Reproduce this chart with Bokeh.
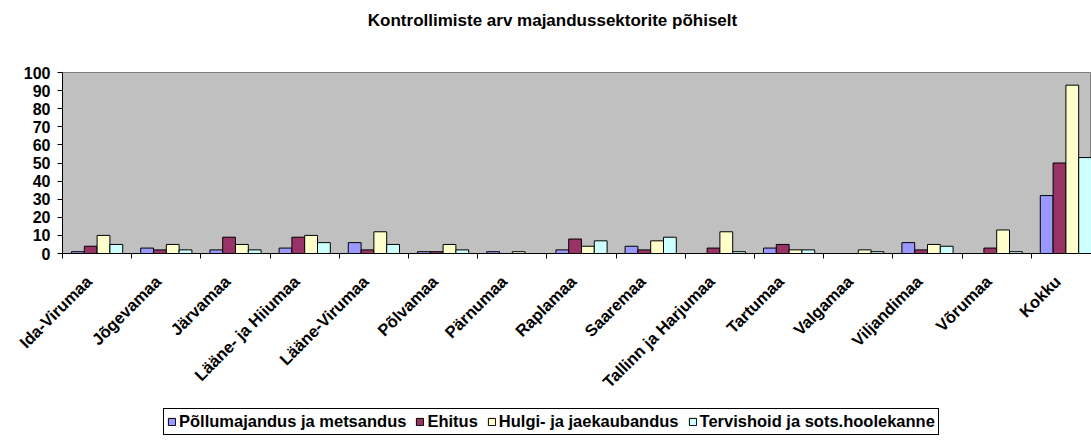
import math
from bokeh.plotting import figure
from bokeh.layouts import column
from bokeh.models import Range1d, FixedTicker, Legend, LegendItem, LinearAxis, Label
from bokeh.embed import file_html
from bokeh.resources import INLINE

title_text = "Kontrollimiste arv majandussektorite põhiselt"
categories = ["Ida-Virumaa", "Jõgevamaa", "Järvamaa", "Lääne- ja Hiiumaa", "Lääne-Virumaa",
              "Põlvamaa", "Pärnumaa", "Raplamaa", "Saaremaa", "Tallinn ja Harjumaa",
              "Tartumaa", "Valgamaa", "Viljandimaa", "Võrumaa", "Kokku"]
pollumajandus = [1, 3, 2, 3, 6, 1, 1, 2, 4, 0, 3, 0, 6, 0, 32]
ehitus        = [4, 2, 9, 9, 2, 1, 0, 8, 2, 3, 5, 0, 2, 3, 50]
hulgi         = [10, 5, 5, 10, 12, 5, 1, 4, 7, 12, 2, 2, 5, 13, 93]
tervishoid    = [5, 2, 2, 6, 5, 2, 0, 7, 9, 1, 2, 1, 4, 1, 53]
series_names = ["Põllumajandus ja metsandus", "Ehitus", "Hulgi- ja jaekaubandus",
                "Tervishoid ja sots.hoolekanne"]
series_values = [pollumajandus, ehitus, hulgi, tervishoid]
colors = ["#9999FF", "#993366", "#FFFFCC", "#CCFFFF"]
y_ticks = list(range(0, 101, 10))

FONT = "Liberation Sans"
n = len(categories)
bw = 0.185

# ---- title strip (frame aligned with the chart frame: page x 62..1091)
tf = figure(width=1091, height=40, output_backend="svg", toolbar_location=None,
            x_range=Range1d(62, 1091), y_range=Range1d(0, 40),
            x_axis_type=None, y_axis_type=None,
            min_border_left=0, min_border_right=0, min_border_top=0, min_border_bottom=0)
tf.outline_line_color = None
tf.xgrid.visible = False
tf.ygrid.visible = False
tf.add_layout(Label(x=552, y=20, text=title_text, text_align="center",
                    text_baseline="middle", text_font=FONT, text_font_size="17px",
                    text_font_style="bold", text_color="black"))

# ---- main chart
p = figure(frame_width=1029, frame_height=181, output_backend="svg", toolbar_location=None,
           x_range=Range1d(0, 14.87), y_range=Range1d(0, 100),
           x_axis_type=None, y_axis_type=None,
           min_border_left=62, min_border_top=32, min_border_right=0, min_border_bottom=150)
p.background_fill_color = "#C0C0C0"
p.border_fill_color = "white"
p.outline_line_color = "#808080"
p.outline_line_width = 1

yax = LinearAxis(ticker=FixedTicker(ticks=y_ticks))
yax.axis_line_color = "black"
yax.major_tick_line_color = "black"
yax.major_tick_out = 5
yax.major_tick_in = 0
yax.minor_tick_line_color = None
yax.major_label_text_font = FONT
yax.major_label_text_font_size = "16px"
yax.major_label_text_font_style = "bold"
yax.major_label_text_color = "black"
yax.major_label_standoff = 7
p.add_layout(yax, "left")

label_pos = [i + 0.38 for i in range(n)]
centers = [i + 0.5 for i in range(n)]
xax = LinearAxis(ticker=FixedTicker(ticks=label_pos, minor_ticks=list(range(n + 1))))
xax.major_label_overrides = {c: name for c, name in zip(label_pos, categories)}
xax.axis_line_color = "black"
xax.major_tick_line_color = None
xax.major_tick_out = 0
xax.major_tick_in = 0
xax.minor_tick_line_color = "black"
xax.minor_tick_out = 5
xax.minor_tick_in = 0
xax.major_label_orientation = math.pi / 4
xax.major_label_text_font = FONT
xax.major_label_text_font_size = "16.5px"
xax.major_label_text_font_style = "bold"
xax.major_label_text_color = "black"
xax.major_label_standoff = 20
p.add_layout(xax, "below")

p.ygrid.ticker = FixedTicker(ticks=y_ticks[1:-1])
p.ygrid.grid_line_color = "black"
p.ygrid.grid_line_width = 1
p.xgrid.grid_line_color = None

for k, (name, vals, col) in enumerate(zip(series_names, series_values, colors)):
    xs = [c + (k - 1.5) * bw for c in centers]
    p.vbar(x=xs, top=vals, width=bw, bottom=0, fill_color=col,
           line_color="black", line_width=1)

# ---- legend strip (tiny swatch renderers hidden behind the opaque legend box)
lf = figure(width=1091, height=42, output_backend="svg", toolbar_location=None,
            x_range=Range1d(0, 1), y_range=Range1d(0, 1),
            x_axis_type=None, y_axis_type=None,
            min_border_left=0, min_border_right=0, min_border_top=0, min_border_bottom=0)
lf.outline_line_color = None
lf.background_fill_color = "white"
lf.xgrid.visible = False
lf.ygrid.visible = False
items = []
for name, col in zip(series_names, colors):
    r = lf.vbar(x=[0.5], top=[0.55], bottom=0.45, width=0.002, fill_color=col,
                line_color="black", line_width=1)
    items.append(LegendItem(label=name, renderers=[r]))
legend = Legend(items=items, orientation="horizontal", location=(101, 10))
legend.label_text_font = FONT
legend.label_text_font_size = "16.5px"
legend.label_text_font_style = "bold"
legend.label_text_color = "black"
legend.glyph_width = 9
legend.glyph_height = 9
legend.label_standoff = 3
legend.spacing = 9
legend.padding = 3
legend.margin = 0
legend.border_line_color = "black"
legend.border_line_alpha = 1
legend.border_line_width = 1
legend.background_fill_color = "white"
legend.background_fill_alpha = 1
lf.add_layout(legend, "center")

layout = column(tf, p, lf, spacing=0)
open("out.html", "w").write(file_html(layout, INLINE))
